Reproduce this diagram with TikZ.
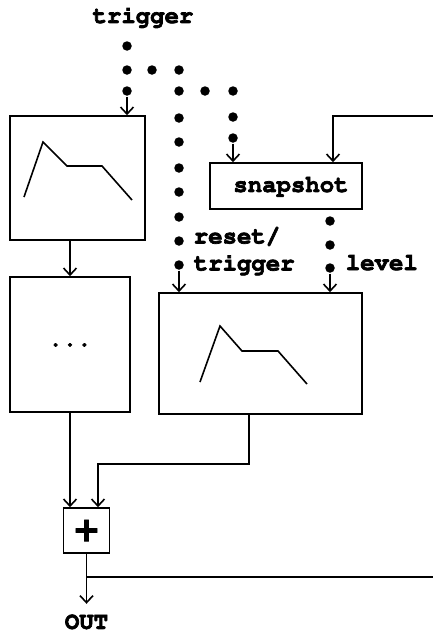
\documentclass[tikz,border=0pt]{standalone}
\usepackage[T1]{fontenc}
\usepackage{fontspec}
\newfontfamily\plusfont{DejaVu Sans}
\newcommand\cour{\usefont{T1}{pcr}{b}{n}\fontsize{24}{27}\selectfont}
\usetikzlibrary{arrows.meta,calc,positioning}
\tikzset{
  >={Straight Barb[length=7pt,width=13pt]},
  every node/.style={font=\cour,execute at begin node={\special{pdf:code 2 Tr 0.7 w}}},
  blk/.style={draw,line width=1.6pt,inner sep=0pt},
  bead/.style={circle,fill,inner sep=0pt,minimum size=9.5pt},
  lbl/.style={inner sep=0pt,align=left},
}

\begin{document}
\begin{tikzpicture}[x=1pt,y=-1pt,line width=1.6pt]
  \fill[white] (0,0) rectangle (433,637);
  \useasboundingbox (0,0) rectangle (433,637);
  \node[blk,minimum width=135pt,minimum height=124pt] (env1) at (77.5,178) {};
  \node[blk,minimum width=120pt,minimum height=135pt] (dots) at (70,344.5) {...};
  \node[blk,minimum width=152pt,minimum height=46pt] (snap) at (286,186) {\hspace{10pt}snapshot};
  \node[blk,minimum width=203pt,minimum height=121pt] (env2) at (260.5,353.5) {};
  \node[blk,minimum width=46pt,minimum height=45pt,font=\plusfont\bfseries\fontsize{34}{34}\selectfont] (plus) at (86.5,530.5) {+};
  \draw[shift={(env1.center)}] (-53.5,19) -- (-34.5,-36) -- (-10.5,-12) -- (24.5,-12) -- (54.5,22);
  \draw[shift={(env2.center)}] (-60.5,28.5) -- (-40.5,-27.5) -- (-18.5,-2.5) -- (17.5,-2.5) -- (46.5,30.5);

  \node[lbl,anchor=base] (trig) at (143,23) {trigger};
  \node[lbl,anchor=west] (rst) at (193,251) {reset/\\trigger};
  \node[lbl,anchor=base west] (lvl) at (345,270) {level};

  \foreach \p [count=\i] in {{127,46},{127,70},{127,91}}
    \node[bead] (a\i) at (\p) {};
  \foreach \p [count=\i] in {{152,70},{179,70},{205,91},{233,91}}
    \node[bead] (r\i) at (\p) {};
  \foreach \y [count=\i] in {91,118,142,168,192,217,241,265}
    \node[bead] (b\i) at (179,\y) {};
  \foreach \y [count=\i] in {117,138}
    \node[bead] (c\i) at (233,\y) {};
  \foreach \y [count=\i] in {221,245,268}
    \node[bead] (d\i) at (330,\y) {};

  \draw[->] (a3) -- (a3 |- env1.north);
  \draw[->] (b8) -- (b8 |- env2.north);
  \draw[->] (c2) -- (c2 |- snap.north);
  \draw[->] (d3) -- (d3 |- env2.north);

  \coordinate (edge) at (433,116);
  \draw[->] (edge) -| ($(snap.north)+(47,0)$);
  \draw[->] (dots.north |- env1.south) -- (dots.north);
  \draw[->] (dots.south) -- (dots.south |- plus.north);
  \draw[->] ($(env2.south)+(-11.5,0)$) -- ++(0,49) -| ($(plus.north)+(11.5,0)$);
  \draw[->] (plus.south) -- coordinate[pos=.46] (br) ++(0,50) coordinate (o);
  \node[lbl,below=10pt of o] (out) {OUT};
  \draw (br) -- (br -| edge);
\end{tikzpicture}
\end{document}
